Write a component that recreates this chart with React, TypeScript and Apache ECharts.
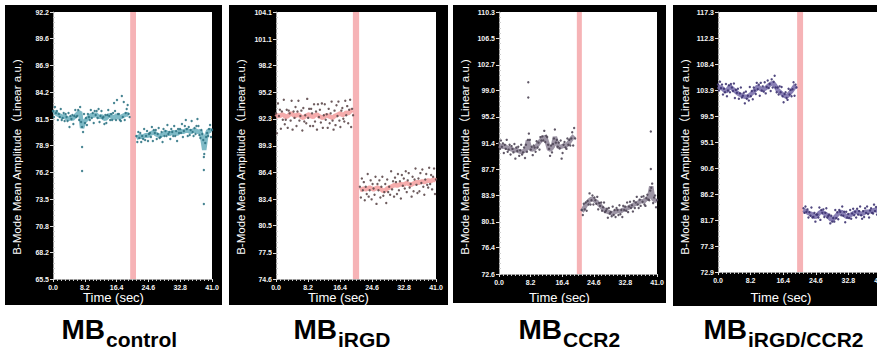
import React, { useEffect, useRef } from "react";
import * as echarts from "echarts";

// ---------- tick labels ----------
const xTicks = [0, 8.2, 16.4, 24.6, 32.8, 41.0];
const yTicksControl = [65.5, 68.2, 70.8, 73.5, 76.2, 78.9, 81.5, 84.2, 86.9, 89.6, 92.2];
const yTicksIRGD = [74.6, 77.5, 80.5, 83.4, 86.4, 89.3, 92.3, 95.2, 98.2, 101.1, 104.1];
const yTicksCCR2 = [72.6, 76.4, 80.1, 83.9, 87.7, 91.4, 95.2, 99.0, 102.7, 106.5, 110.3];
const yTicksBoth = [72.9, 77.3, 81.7, 86.2, 90.6, 95.1, 99.5, 103.9, 108.4, 112.8, 117.3];

// ---------- categories ----------
const subscripts = ["control", "iRGD", "CCR2", "iRGD/CCR2"];

// sampling of the traces (seconds)
const PRE_START = 0;
const POST_START = 21.5;
const CENTER_STEP = 0.5;
const DOT_STEP = 0.25;

// injection band (sec)
const bandControl = [19.9, 21.4];
const bandIRGD = [19.7, 21.3];
const bandCCR2 = [20.2, 21.5];
const bandBoth = [19.9, 21.4];

// ---------- MB control ----------
const controlPreCenter = [82.1, 82.2, 82.0, 81.9, 81.8, 81.7, 81.8, 81.6, 81.5, 81.6, 81.5, 81.7, 81.9, 82.1, 82.2, 80.6, 81.2, 81.4, 81.6, 81.8, 81.9, 81.8, 82.0, 81.8, 81.7, 81.8, 81.6, 81.5, 81.7, 81.9, 81.8, 81.6, 81.7, 81.9, 81.6, 81.7, 81.8, 81.9, 82.0, 81.9];
const controlPostCenter = [79.6, 79.7, 79.8, 79.7, 79.8, 79.9, 79.8, 80.0, 80.1, 80.2, 80.0, 79.9, 79.8, 79.9, 80.0, 80.2, 80.1, 80.0, 80.1, 80.2, 80.1, 80.0, 80.2, 80.3, 80.2, 80.3, 80.4, 80.3, 80.2, 80.3, 80.4, 80.3, 80.2, 80.3, 79.6, 78.4, 79.8, 80.3, 80.4, 80.3];
const controlPreDots = [
  82.3, 81.7, 82.7, 82.1, 82.3, 81.4, 82.0, 81.7, 82.5, 81.4,
  81.6, 82.1, 81.3, 82.0, 81.7, 81.3, 82.1, 80.7, 81.8, 81.5,
  81.9, 81.0, 81.8, 82.4, 81.7, 81.8, 82.4, 81.4, 82.7, 81.2,
  80.7, 80.2, 82.0, 81.1, 81.6, 80.9, 82.0, 81.7, 81.4, 82.4,
  81.6, 82.1, 81.1, 82.3, 81.9, 82.3, 81.6, 82.5, 81.2, 81.8,
  82.3, 81.6, 81.7, 81.0, 81.9, 81.1, 81.9, 82.4, 81.8, 81.4,
  82.0, 81.4, 82.1, 83.1, 82.3, 81.4, 83.4, 82.0, 82.0, 81.4,
  81.3, 83.8, 81.7, 83.2, 81.4, 82.1, 82.5, 82.9, 82.0, 81.7,
];
const controlPostDots = [
  79.8, 79.2, 80.2, 79.6, 80.1, 79.2, 79.8, 79.5, 80.5, 79.4,
  79.8, 80.3, 79.3, 80.0, 80.1, 79.7, 80.7, 79.3, 80.4, 80.1,
  80.4, 79.5, 80.0, 80.6, 79.6, 79.7, 80.2, 79.2, 80.5, 79.8,
  80.3, 79.8, 80.9, 80.0, 80.2, 79.5, 80.5, 80.2, 79.8, 80.8,
  79.8, 80.3, 79.3, 80.5, 80.1, 80.5, 80.1, 81.0, 79.7, 80.3,
  80.8, 81.4, 80.5, 79.8, 80.7, 79.9, 80.4, 81.3, 80.2, 79.8,
  80.6, 80.0, 80.8, 81.5, 80.8, 79.9, 79.6, 80.4, 80.0, 79.4,
  78.0, 79.1, 79.7, 80.1, 79.8, 80.5, 80.9, 79.7, 80.4,
];
const controlOutliers = [[7.5, 78.7], [7.5, 76.3], [38.9, 77.7], [38.9, 76.4], [38.9, 73.0]];

// ---------- MB iRGD ----------
const irgdPreCenter = [92.5, 92.7, 92.6, 92.8, 92.7, 92.5, 92.6, 92.8, 92.9, 92.7, 92.6, 92.8, 92.7, 92.5, 92.4, 92.6, 92.7, 92.8, 92.6, 92.5, 92.7, 92.8, 92.6, 92.5, 92.4, 92.6, 92.7, 92.6, 92.5, 92.4, 92.6, 92.7, 92.8, 92.9, 92.7, 92.8, 93.0, 92.9, 93.1, 93.3];
const irgdPostCenter = [84.4, 84.5, 84.6, 84.5, 84.6, 84.7, 84.6, 84.5, 84.6, 84.7, 84.6, 84.5, 84.3, 84.4, 84.6, 84.7, 84.8, 84.9, 85.0, 84.9, 85.0, 85.1, 85.0, 85.1, 85.2, 85.1, 85.0, 85.1, 85.2, 85.3, 85.2, 85.3, 85.4, 85.3, 85.4, 85.5, 85.4, 85.5, 85.6, 85.5];
const irgdPreDots = [
  92.9, 90.7, 94.0, 92.6, 93.3, 91.2, 93.1, 92.2, 94.4, 91.7,
  92.2, 93.3, 91.3, 93.2, 92.9, 92.1, 94.3, 91.1, 93.1, 92.4,
  93.6, 91.5, 93.1, 94.3, 92.1, 92.6, 93.2, 91.0, 93.5, 92.0,
  92.7, 91.8, 94.5, 92.4, 93.4, 91.5, 93.4, 92.9, 91.5, 93.9,
  92.0, 93.1, 91.1, 93.9, 92.5, 93.3, 91.9, 94.0, 91.3, 92.7,
  93.9, 92.2, 92.8, 91.3, 93.4, 91.8, 92.9, 94.2, 92.1, 91.1,
  93.2, 91.6, 93.8, 92.6, 94.2, 92.1, 91.4, 93.2, 93.5, 92.3,
  92.0, 94.3, 92.7, 93.7, 91.8, 93.3, 94.4, 91.4, 93.4, 92.7,
];
const irgdPostDots = [
  84.8, 83.6, 85.7, 84.4, 85.3, 83.3, 84.8, 84.0, 86.2, 83.7,
  84.4, 85.5, 83.4, 85.1, 84.6, 83.9, 85.9, 82.9, 85.1, 84.4,
  85.5, 83.6, 84.8, 85.9, 83.8, 84.2, 85.1, 83.0, 85.6, 84.2,
  84.8, 83.9, 86.5, 84.5, 85.4, 83.7, 85.8, 85.3, 84.0, 86.2,
  84.4, 85.4, 83.5, 86.1, 84.9, 85.7, 84.6, 86.5, 84.2, 85.5,
  86.3, 84.7, 85.1, 83.7, 85.9, 84.3, 85.6, 86.8, 85.0, 84.1,
  85.7, 84.3, 86.3, 85.2, 86.7, 84.8, 83.9, 85.6, 86.2, 85.0,
  84.7, 86.9, 85.1, 86.1, 84.5, 85.9, 86.8, 84.0, 85.6,
];
const irgdOutliers: number[][] = [];

// ---------- MB CCR2 ----------
const ccr2PreCenter = [91.1, 91.0, 90.9, 91.0, 90.8, 90.7, 90.6, 90.5, 90.4, 90.5, 90.3, 90.2, 90.2, 90.3, 90.5, 91.8, 90.7, 90.5, 90.6, 90.8, 91.2, 91.6, 91.9, 92.2, 92.3, 91.5, 90.5, 90.6, 91.0, 92.3, 91.5, 90.8, 90.9, 91.0, 91.1, 91.1, 91.4, 91.8, 92.2, 92.5];
const ccr2PostCenter = [81.6, 82.0, 82.5, 82.9, 83.2, 83.4, 83.3, 83.1, 82.9, 82.6, 82.3, 82.0, 81.8, 81.6, 81.5, 81.4, 81.3, 81.5, 81.6, 81.7, 81.6, 81.8, 81.9, 82.0, 82.1, 82.3, 82.4, 82.6, 82.7, 82.8, 83.0, 83.1, 83.0, 83.3, 83.5, 83.7, 85.2, 83.4, 83.2, 83.1];
const ccr2PreDots = [
  91.4, 90.6, 91.8, 90.9, 91.4, 90.0, 91.2, 90.6, 91.9, 90.2,
  90.5, 91.2, 89.8, 91.0, 90.6, 90.1, 91.3, 89.2, 90.8, 90.3,
  90.9, 89.6, 90.4, 91.2, 89.8, 90.1, 90.8, 89.3, 91.2, 90.2,
  91.9, 92.8, 91.9, 90.5, 90.9, 89.7, 91.1, 90.8, 90.2, 91.7,
  90.8, 91.5, 90.5, 92.3, 91.8, 92.4, 91.8, 93.2, 91.6, 92.5,
  92.3, 91.2, 90.6, 89.6, 91.1, 90.1, 91.3, 92.1, 93.4, 91.5,
  91.9, 90.9, 91.5, 90.7, 91.8, 89.2, 90.0, 91.2, 91.6, 90.8,
  90.6, 92.1, 91.2, 91.9, 91.1, 92.1, 93.0, 91.1, 93.6, 92.1,
];
const ccr2PostDots = [
  81.8, 81.1, 82.7, 81.9, 82.9, 81.7, 83.1, 82.6, 84.2, 82.6,
  83.2, 83.9, 82.6, 83.6, 83.2, 82.7, 83.7, 81.9, 82.8, 82.4,
  82.9, 81.7, 82.2, 82.9, 81.5, 81.7, 82.0, 80.7, 82.1, 81.3,
  81.5, 80.9, 82.3, 81.1, 81.8, 80.8, 82.1, 81.8, 81.1, 82.5,
  81.2, 81.8, 80.8, 82.4, 81.8, 82.3, 81.7, 82.9, 81.5, 82.3,
  83.0, 82.1, 82.5, 81.6, 83.1, 82.1, 82.9, 83.7, 82.6, 82.1,
  83.3, 82.4, 83.7, 83.0, 83.8, 82.6, 82.4, 83.5, 84.0, 83.3,
  83.2, 84.6, 85.0, 85.6, 82.8, 83.6, 83.9, 82.2, 83.2,
];
const ccr2Outliers = [[7.6, 98.0], [7.6, 100.2], [39.4, 87.7], [39.4, 93.1]];

// ---------- MB iRGD/CCR2 ----------
const bothPreCenter = [104.6, 104.4, 104.3, 104.0, 103.7, 104.1, 104.6, 104.3, 104.0, 103.7, 103.4, 103.2, 103.1, 102.9, 102.8, 102.9, 103.1, 103.4, 103.7, 104.1, 104.6, 104.3, 104.0, 104.1, 104.3, 104.6, 104.9, 105.1, 105.1, 104.6, 104.0, 103.7, 103.4, 103.1, 102.9, 103.0, 103.4, 103.8, 104.3, 104.8];
const bothPostCenter = [83.5, 83.3, 83.1, 82.9, 82.8, 82.5, 82.3, 82.6, 83.0, 83.2, 83.0, 82.8, 82.6, 82.2, 81.8, 82.0, 82.3, 82.7, 83.0, 83.2, 82.9, 82.5, 82.3, 82.5, 82.7, 82.9, 83.1, 83.2, 83.0, 82.8, 82.9, 83.1, 83.2, 83.2, 83.3, 83.4, 83.5, 83.4, 83.5, 83.6];
const bothPreDots = [
  104.9, 103.9, 105.4, 104.3, 104.9, 103.2, 104.2, 103.6, 105.0, 102.9,
  103.9, 104.8, 103.6, 105.0, 104.4, 103.8, 105.1, 102.6, 104.0, 103.5,
  104.2, 102.5, 103.4, 104.4, 102.7, 103.0, 103.5, 101.7, 103.7, 102.5,
  103.0, 102.2, 104.5, 102.9, 103.8, 102.4, 104.4, 103.9, 103.3, 105.2,
  104.1, 104.9, 103.0, 105.2, 103.9, 104.6, 103.7, 105.3, 103.4, 104.5,
  105.6, 104.3, 105.0, 103.8, 105.8, 104.4, 105.4, 106.4, 104.4, 103.6,
  104.4, 103.2, 104.6, 103.6, 104.5, 102.9, 101.9, 103.3, 103.6, 102.6,
  102.3, 104.2, 103.2, 104.0, 102.9, 104.1, 105.3, 103.0, 104.9, 104.4,
];
const bothPostDots = [
  83.8, 83.0, 84.1, 83.2, 83.6, 82.2, 83.1, 82.5, 83.9, 82.2,
  82.3, 83.0, 81.5, 82.7, 82.7, 82.2, 83.9, 81.8, 83.5, 83.0,
  83.6, 82.3, 83.0, 83.8, 82.2, 82.5, 82.7, 81.2, 82.5, 81.5,
  82.1, 81.5, 83.5, 82.1, 83.1, 81.9, 83.5, 83.2, 82.6, 84.1,
  82.5, 83.2, 81.4, 83.2, 82.2, 82.8, 82.1, 83.5, 82.0, 82.9,
  83.7, 82.6, 83.2, 82.2, 83.7, 82.7, 83.3, 84.1, 82.6, 82.0,
  83.3, 82.3, 83.8, 83.0, 84.1, 82.8, 82.2, 83.4, 83.8, 83.0,
  82.9, 84.4, 83.3, 84.0, 82.7, 83.7, 84.3, 82.4, 83.7,
];
const bothOutliers: number[][] = [];

// ---------- assembly ----------
const panelData = [
  { sub: subscripts[0], yTicks: yTicksControl, band: bandControl, preC: controlPreCenter, postC: controlPostCenter, preD: controlPreDots, postD: controlPostDots, out: controlOutliers },
  { sub: subscripts[1], yTicks: yTicksIRGD, band: bandIRGD, preC: irgdPreCenter, postC: irgdPostCenter, preD: irgdPreDots, postD: irgdPostDots, out: irgdOutliers },
  { sub: subscripts[2], yTicks: yTicksCCR2, band: bandCCR2, preC: ccr2PreCenter, postC: ccr2PostCenter, preD: ccr2PreDots, postD: ccr2PostDots, out: ccr2Outliers },
  { sub: subscripts[3], yTicks: yTicksBoth, band: bandBoth, preC: bothPreCenter, postC: bothPostCenter, preD: bothPreDots, postD: bothPostDots, out: bothOutliers },
];

const LAYOUT = [
  { frame: [5, 5, 217, 300], grid: [53, 12, 159, 267], titleJoin: 105 },
  { frame: [229, 5, 219, 300], grid: [276, 12, 160, 267], titleJoin: 337 },
  { frame: [453, 5, 213, 298], grid: [499, 12, 158, 262], titleJoin: 562 },
  { frame: [673, 5, 216, 301], grid: [718, 12, 163, 260], titleJoin: 747 },
];

const STYLE = [
  { line: "#5ea9b8", dot: "#2f7484" },
  { line: "#f29797", dot: "#5e4a4c" },
  { line: "#857b8f", dot: "#4f4656" },
  { line: "#6a5fa2", dot: "#3e3472" },
];

const FONT = "'Liberation Sans', Arial, 'Noto Sans CJK SC', sans-serif";

function withTimes(values: number[], start: number, step: number) {
  return values.map((v, i) => [Math.round((start + i * step) * 1000) / 1000, v]);
}

function minorOf(ticks: number[], parts: number) {
  const res: number[] = [];
  for (let i = 0; i < ticks.length - 1; i++) {
    for (let k = 0; k < parts; k++) {
      res.push(ticks[i] + ((ticks[i + 1] - ticks[i]) * k) / parts);
    }
  }
  res.push(ticks[ticks.length - 1]);
  return res;
}

function buildOption() {
  const grid: any[] = [];
  const xAxis: any[] = [];
  const yAxis: any[] = [];
  const series: any[] = [];
  const elements: any[] = [];

  panelData.forEach((p, i) => {
    const L = LAYOUT[i];
    const S = STYLE[i];
    grid.push({
      left: L.grid[0], top: L.grid[1], width: L.grid[2], height: L.grid[3],
      show: true, backgroundColor: "#ffffff", borderWidth: 0,
      containLabel: false, outerBoundsMode: "none",
    });
    xAxis.push({
      gridIndex: i, type: "value", min: xTicks[0], max: xTicks[xTicks.length - 1], interval: 8.2,
      axisLine: { show: true, onZero: false, lineStyle: { color: "#9a9a9a", width: 1 } },
      axisTick: { show: true, length: 3, lineStyle: { color: "#dddddd" } },
      minorTick: { show: true, splitNumber: 8, length: 2, lineStyle: { color: "#cccccc" } },
      splitLine: { show: false },
      axisLabel: {
        color: "#f4f4f4", fontSize: 7, fontWeight: "bold", fontFamily: FONT, margin: 5,
        showMinLabel: true, showMaxLabel: true, hideOverlap: false,
        formatter: (v: number) => v.toFixed(1),
      },
    });
    const yMin = p.yTicks[0];
    const yMax = p.yTicks[p.yTicks.length - 1];
    yAxis.push({
      gridIndex: i, type: "value", min: yMin, max: yMax,
      axisLine: { show: true, onZero: false, lineStyle: { color: "#9a9a9a", width: 1 } },
      axisTick: { show: true, length: 3, customValues: p.yTicks, lineStyle: { color: "#dddddd" } },
      splitLine: { show: false },
      axisLabel: {
        customValues: p.yTicks, color: "#f4f4f4", fontSize: 7, fontWeight: "bold", fontFamily: FONT, margin: 4,
        formatter: (v: number) => v.toFixed(1),
      },
    });
    yAxis.push({
      gridIndex: i, type: "value", min: yMin, max: yMax,
      axisLine: { show: false },
      axisTick: { show: true, length: 2, customValues: minorOf(p.yTicks, 5), lineStyle: { color: "#cccccc" } },
      splitLine: { show: false },
      axisLabel: { show: false },
    });
    const yIdx = i * 2;
    const lineCommon = {
      type: "line", xAxisIndex: i, yAxisIndex: yIdx, symbol: "none", showSymbol: false,
      lineStyle: { color: S.line, width: 4.5, opacity: 0.8 }, silent: true, z: 2,
    };
    series.push({
      ...lineCommon,
      data: withTimes(p.preC, PRE_START, CENTER_STEP),
      markArea: {
        silent: true,
        itemStyle: { color: "#f6b3b6", opacity: 1 },
        data: [[{ xAxis: p.band[0] }, { xAxis: p.band[1] }]],
      },
    });
    series.push({ ...lineCommon, data: withTimes(p.postC, POST_START, CENTER_STEP) });
    const dotCommon = {
      type: "scatter", xAxisIndex: i, yAxisIndex: yIdx, symbolSize: 2.4, silent: true, z: 3,
      itemStyle: { color: S.dot, opacity: 0.9 },
    };
    series.push({ ...dotCommon, data: withTimes(p.preD, PRE_START, DOT_STEP) });
    series.push({ ...dotCommon, data: withTimes(p.postD, POST_START, DOT_STEP) });
    if (p.out.length) series.push({ ...dotCommon, data: p.out });

    // black frame
    elements.push({
      type: "rect", z: -10, silent: true,
      shape: { x: L.frame[0], y: L.frame[1], width: L.frame[2], height: L.frame[3] },
      style: { fill: "#000000" },
    });
    // y axis name
    elements.push({
      type: "text", x: L.frame[0] + 12, y: 157, rotation: Math.PI / 2, z: 5, silent: true,
      style: {
        text: "B-Mode Mean Amplitude（Linear a.u.)", fill: "#ffffff", fontSize: 11.5, fontFamily: FONT,
        align: "center", verticalAlign: "middle",
      },
    });
    // x axis name
    elements.push({
      type: "text", x: L.frame[0] + L.frame[2] / 2, y: 297, z: 5, silent: true,
      style: {
        text: "Time (sec)", fill: "#ffffff", fontSize: 13, fontFamily: FONT,
        align: "center", verticalAlign: "middle",
      },
    });
    // panel title: MB + subscript
    elements.push({
      type: "text", x: L.titleJoin, y: 329, z: 5, silent: true,
      style: {
        text: "MB", fill: "#000000", fontSize: 28, fontWeight: "bold", fontFamily: FONT,
        align: "right", verticalAlign: "middle",
      },
    });
    elements.push({
      type: "text", x: L.titleJoin + 1, y: 339, z: 5, silent: true,
      style: {
        text: p.sub, fill: "#000000", fontSize: 21, fontWeight: "bold", fontFamily: FONT,
        align: "left", verticalAlign: "middle",
      },
    });
  });

  return {
    animation: false,
    backgroundColor: "#ffffff",
    grid, xAxis, yAxis, series,
    graphic: { elements },
  };
}

export default function App() {
  const ref = useRef<HTMLDivElement>(null);
  useEffect(() => {
    if (!ref.current) return;
    const chart = echarts.init(ref.current, null, { renderer: "svg" });
    chart.setOption(buildOption() as any);
    return () => chart.dispose();
  }, []);
  return (
    <div
      ref={ref}
      style={{ position: "fixed", left: 0, top: 0, width: 877, height: 354, background: "#ffffff" }}
    />
  );
}
